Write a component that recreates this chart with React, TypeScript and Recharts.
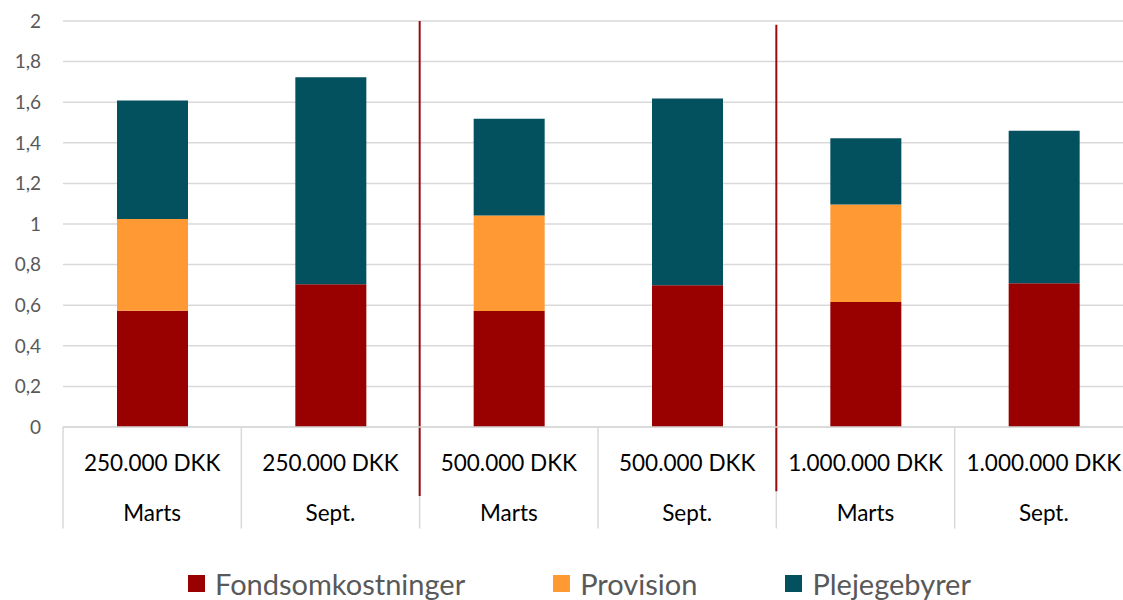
import { BarChart, Bar, XAxis, YAxis, CartesianGrid, Legend, ReferenceLine } from 'recharts';

const amounts = ['250.000 DKK', '250.000 DKK', '500.000 DKK', '500.000 DKK', '1.000.000 DKK', '1.000.000 DKK'];
const months = ['Marts', 'Sept.', 'Marts', 'Sept.', 'Marts', 'Sept.'];

const fondsomkostninger = [0.573, 0.703, 0.571, 0.698, 0.616, 0.708];
const provision = [0.452, 0, 0.471, 0, 0.48, 0];
const plejegebyrer = [0.583, 1.02, 0.476, 0.92, 0.327, 0.751];

const yTicks = [0, 0.2, 0.4, 0.6, 0.8, 1, 1.2, 1.4, 1.6, 1.8, 2];

const series = [
  { key: 'fond', name: 'Fondsomkostninger', color: '#990000' },
  { key: 'provision', name: 'Provision', color: '#FF9933' },
  { key: 'pleje', name: 'Plejegebyrer', color: '#03505E' },
];

const data = amounts.map((amount, i) => ({
  cat: `${amount} ${months[i]}`,
  fond: fondsomkostninger[i],
  provision: provision[i],
  pleje: plejegebyrer[i],
}));

// the red dividers sit where each new amount group begins
const groupStarts = data.filter((d, i) => i > 0 && amounts[i] !== amounts[i - 1]).map((d) => d.cat);
const dividerSpan = [
  { low: -0.34, high: 2 },
  { low: -0.316, high: 1.982 },
];

const FONT = 'Lato, "Open Sans", sans-serif';

const CategoryTick = (props: any) => {
  const { x, y, index } = props;
  return (
    <g>
      <text x={x} y={y + 44} textAnchor="middle" fontSize={22.5} fill="#000" fontFamily={FONT}>
        {amounts[index]}
      </text>
      <text x={x} y={y + 94} textAnchor="middle" fontSize={22.5} fill="#000" fontFamily={FONT}>
        {months[index]}
      </text>
    </g>
  );
};

const LegendContent = () => (
  <div style={{ height: 63, display: 'flex', alignItems: 'center', paddingLeft: 188, paddingTop: 30, boxSizing: 'border-box', gap: 88 }}>
    {series.map((s) => (
      <div key={s.key} style={{ display: 'flex', alignItems: 'center' }}>
        <div style={{ width: 17, height: 17, backgroundColor: s.color, marginRight: 10 }} />
        <span style={{ fontFamily: FONT, fontSize: 29, lineHeight: '29px', color: '#595959' }}>{s.name}</span>
      </div>
    ))}
  </div>
);

export default function App() {
  return (
    <div style={{ position: 'absolute', left: 0, top: 0, width: 1123, height: 600, overflow: 'hidden', background: '#fff' }}>
      <BarChart width={1133} height={600} data={data} margin={{ top: 21, right: 0, left: 0, bottom: 0 }} barSize={71}>
        <CartesianGrid vertical={false} stroke="#d9d9d9" strokeWidth={1.5} />
        <XAxis
          dataKey="cat"
          interval={0}
          height={110}
          axisLine={{ stroke: '#d9d9d9', strokeWidth: 1.5 }}
          tickLine={false}
          tickSize={0}
          tickMargin={0}
          tick={<CategoryTick />}
        />
        <YAxis
          width={63}
          domain={[0, 2]}
          ticks={yTicks}
          interval={0}
          axisLine={false}
          tickLine={false}
          tickSize={0}
          tickMargin={22}
          tick={{ fill: '#595959', fontSize: 19, fontFamily: FONT }}
          tickFormatter={(v: number) => String(v).replace('.', ',')}
        />
        {series.map((s) => (
          <Bar key={s.key} dataKey={s.key} name={s.name} stackId="a" fill={s.color} isAnimationActive={false} />
        ))}
        {data.map((d) => (
          <ReferenceLine
            key={`sep-${d.cat}`}
            ifOverflow="visible"
            position="start"
            segment={[{ x: d.cat, y: 0 }, { x: d.cat, y: -0.5 }]}
            stroke="#d9d9d9"
            strokeWidth={1.5}
          />
        ))}
        {groupStarts.map((cat, i) => (
          <ReferenceLine
            key={`div-${cat}`}
            ifOverflow="visible"
            position="start"
            segment={[{ x: cat, y: dividerSpan[i].high }, { x: cat, y: dividerSpan[i].low }]}
            stroke="#9b0a0a"
            strokeWidth={2}
          />
        ))}
        <Legend verticalAlign="bottom" content={<LegendContent />} />
      </BarChart>
    </div>
  );
}
